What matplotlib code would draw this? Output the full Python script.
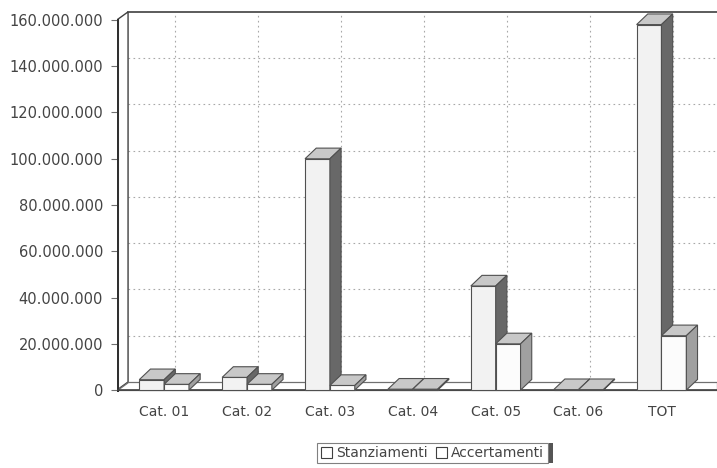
import numpy as np
import matplotlib.pyplot as plt
from matplotlib.patches import Polygon, Rectangle
from matplotlib.ticker import FuncFormatter

categories = ['Cat. 01', 'Cat. 02', 'Cat. 03', 'Cat. 04', 'Cat. 05', 'Cat. 06', 'TOT']
stanziamenti = [4.5e6, 5.5e6, 100e6, 0.4e6, 45e6, 0.2e6, 158e6]
accertamenti = [2.5e6, 2.5e6, 2.0e6, 0.4e6, 20e6, 0.2e6, 23.5e6]
yticks = [0, 20e6, 40e6, 60e6, 80e6, 100e6, 120e6, 140e6, 160e6]

plt.rcParams['font.family'] = 'DejaVu Sans'

fig = plt.figure(figsize=(7.17, 4.68), dpi=100)
ax = fig.add_axes([0.163, 0.162, 0.837, 0.8166])

x = np.arange(len(categories))
w = 0.30         # bar width (category units)
bdx = 0.135      # bar depth in x
bdy = 4.6e6      # bar depth in y
wdx = 0.135      # wall depth in x
wdy = 3.5e6      # wall depth in y
x0, x1 = -0.57, 6.67
ytop = 160e6

edge = '#505050'
grid_c = '#a8a8a8'

# back wall grid
for v in yticks[1:-1]:
    ax.plot([x0 + wdx, x1], [v + wdy, v + wdy], color=grid_c, lw=0.8, ls=(0, (1.5, 3)), zorder=1)
for xi in x:
    ax.plot([xi + wdx, xi + wdx], [wdy, ytop + wdy], color=grid_c, lw=0.8, ls=(0, (1.5, 3)), zorder=1)
ax.plot([x0 + wdx, x1], [ytop + wdy, ytop + wdy], color='#404040', lw=1.2, zorder=1)

# left wall and floor
ax.add_patch(Polygon([[x0, 0], [x0, ytop], [x0 + wdx, ytop + wdy], [x0 + wdx, wdy]],
                     closed=True, facecolor='white', edgecolor='#404040', lw=1.0, zorder=1))
ax.add_patch(Polygon([[x0, 0], [x1, 0], [x1, wdy], [x0 + wdx, wdy]],
                     closed=True, facecolor='white', edgecolor='#707070', lw=0.9, zorder=1))
ax.plot([x0, x0], [0, ytop], color='#303030', lw=2.2, zorder=2)
ax.plot([x0, x1], [0, 0], color='#404040', lw=1.2, zorder=2)


def bar3d(left, h, front_c, side_c, z):
    ax.bar(left, h, width=w, align='edge', facecolor=front_c, edgecolor=edge, lw=0.8, zorder=z)
    ax.add_patch(Polygon([[left, h], [left + w, h], [left + w + bdx, h + bdy], [left + bdx, h + bdy]],
                         closed=True, facecolor='#c8c8c8', edgecolor=edge, lw=0.8, zorder=z))
    ax.add_patch(Polygon([[left + w, 0], [left + w, h], [left + w + bdx, h + bdy], [left + w + bdx, bdy]],
                         closed=True, facecolor=side_c, edgecolor=edge, lw=0.8, zorder=z))


z = 3
for i in range(len(categories)):
    bar3d(x[i] - w, stanziamenti[i], '#f2f2f2', '#686868', z)
    bar3d(x[i], accertamenti[i], '#fcfcfc', '#a0a0a0', z + 1)
    z += 2

ax.set_xlim(x0, x1)
ax.set_ylim(-0.9e6, 164.3e6)
for s in ax.spines.values():
    s.set_visible(False)
ax.set_yticks(yticks)
ax.yaxis.set_major_formatter(FuncFormatter(lambda v, _: f'{int(v):,}'.replace(',', '.')))
ax.set_xticks(x)
ax.set_xticklabels(categories)
ax.tick_params(axis='y', length=4, color='#707070', labelsize=10.5, labelcolor='#444444', pad=6)
ax.tick_params(axis='x', length=0, labelsize=10, labelcolor='#444444', pad=9)

# legend
handles = [Rectangle((0, 0), 1, 1, facecolor='white', edgecolor='#404040', lw=0.8) for _ in range(2)]
leg = fig.legend(handles, ['Stanziamenti', 'Accertamenti'], loc='center', ncol=2,
                 bbox_to_anchor=(0.603, 0.032), frameon=True, fancybox=False,
                 edgecolor='#606060', fontsize=10, handlelength=0.8, handleheight=0.8,
                 handletextpad=0.3, columnspacing=0.6, borderpad=0.25, borderaxespad=0)
leg.get_frame().set_linewidth(0.8)
for t in leg.get_texts():
    t.set_color('#444444')
fig.canvas.draw()
bb = leg.get_window_extent().transformed(fig.transFigure.inverted())
fig.add_artist(Rectangle((bb.x1 + 0.002, bb.y0), 0.006, bb.height, transform=fig.transFigure,
                         facecolor='#555555', edgecolor='none'))

plt.savefig('out.png', dpi=100)
